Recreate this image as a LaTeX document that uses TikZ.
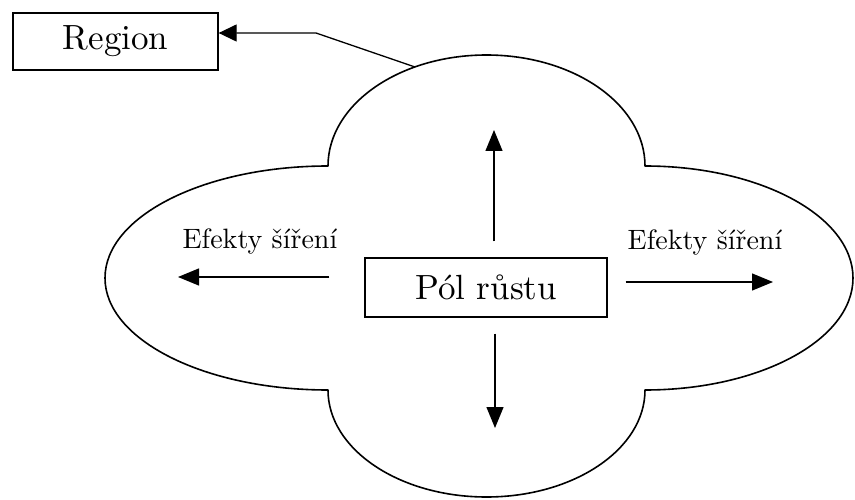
\documentclass[tikz,border=0pt]{standalone}
\usepackage{fontspec}
\setmainfont{lmroman10-regular.otf}
\usetikzlibrary{arrows.meta,calc}
\begin{document}
\begin{tikzpicture}[x=1pt,y=1pt,
  cloud/.style={line width=1.6pt,line join=round},
  boxnode/.style={draw,line width=1.3pt,inner sep=0pt,anchor=center},
  arr/.style={line width=1.3pt,-{Triangle[length=21pt,width=17pt]}},
  lbl/.style={font=\fontsize{28}{30}\selectfont,inner sep=0pt}]
\useasboundingbox (0,0) rectangle (855,499);
% cloud outline
\draw[cloud] (328,333)
  arc[start angle=90,end angle=270,x radius=223,y radius=112]
  arc[start angle=180,end angle=360,x radius=158.5,y radius=107]
  arc[start angle=-90,end angle=90,x radius=208,y radius=112]
  arc[start angle=0,end angle=180,x radius=158.5,y radius=111]
  -- cycle;
% boxes
\node[boxnode,minimum width=205pt,minimum height=57pt,font=\fontsize{35}{40}\selectfont]
  (region) at (115.5,457.5) {Region};
\node[boxnode,minimum width=242pt,minimum height=59pt,font=\fontsize{35}{40}\selectfont]
  (pol) at (486,211.5) {Pól růstu};
% labels
\node[lbl] (lleft) at (260,258) {Efekty šíření};
\node[lbl] (lright) at (705,256) {Efekty šíření};
% arrow ends
\coordinate (tap) at (415,432);
\coordinate (bend) at (316,466);
\coordinate (upEnd) at (494,369);
\coordinate (downEnd) at (495,71);
\coordinate (leftEnd) at (178,222);
\coordinate (rightEnd) at (773,217);
% connectors
\draw[line width=1.3pt,-{Triangle[length=18pt,width=17pt]}] (tap) -- (bend) -- (bend -| region.east);
\draw[arr,shorten <=16pt] (upEnd |- pol.north) -- (upEnd);
\draw[arr,shorten <=16pt] (downEnd |- pol.south) -- (downEnd);
\draw[arr,shorten <=35pt] (pol.west |- leftEnd) -- (leftEnd);
\draw[arr,shorten <=18pt] (pol.east |- rightEnd) -- (rightEnd);
\end{tikzpicture}
\end{document}
